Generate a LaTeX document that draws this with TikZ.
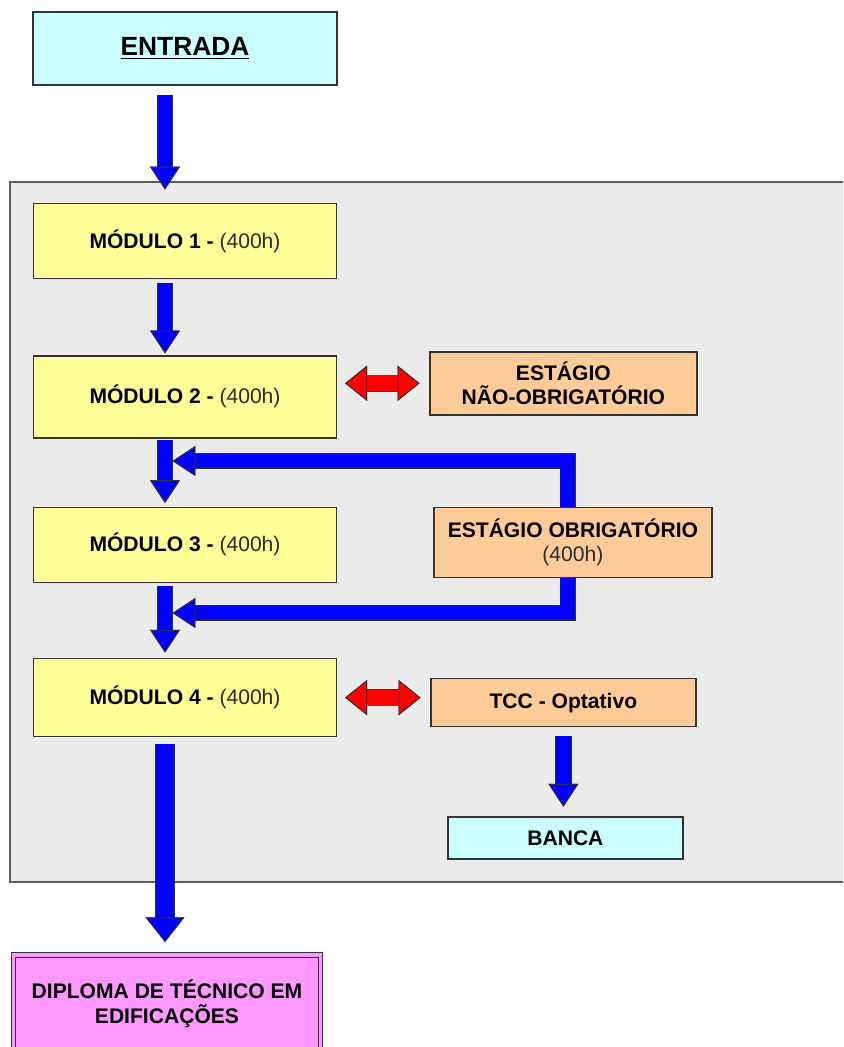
\documentclass[tikz,border=0pt]{standalone}
\usepackage{fontspec}
\setmainfont{Liberation Sans}
\usetikzlibrary{arrows.meta, positioning}

\definecolor{entradacyan}{HTML}{CCFFFF}
\definecolor{moduloyellow}{HTML}{FFFF99}
\definecolor{estagioorange}{HTML}{FFCC99}
\definecolor{diplomapink}{HTML}{FF99FF}
\definecolor{panelgray}{HTML}{EBEBEB}
\definecolor{arrowblue}{HTML}{0000FF}
\definecolor{arrowred}{HTML}{FF0000}
\definecolor{edgegray}{HTML}{333333}
\definecolor{hourgray}{HTML}{2A2A2A}

\begin{document}
\begin{tikzpicture}[
        box/.style={rectangle, draw=edgegray, line width=0.8pt, align=center, inner sep=2pt, font=\fontsize{12}{14}\selectfont\bfseries},
        entrybox/.style={box, fill=entradacyan},
        modulo/.style={box, fill=moduloyellow, minimum width=6.06cm, minimum height=1.5cm},
        estagio/.style={box, fill=estagioorange},
        diplomabox/.style={box, fill=diplomapink, draw=edgegray, double=diplomapink, double distance=1.8pt, line width=0.7pt},
        flow/.style={line width=8.5pt, draw=arrowblue,
            -{Triangle[width=17pt, length=13pt, line width=0.5pt, color=edgegray, fill=arrowblue]},
            preaction={draw=edgegray, line width=9.5pt, -{Triangle[width=17pt, length=13pt, line width=0.5pt, color=edgegray, fill=edgegray]}}},
        bigflow/.style={line width=10.5pt, draw=arrowblue,
            -{Triangle[width=22pt, length=14pt, line width=0.5pt, color=edgegray, fill=arrowblue]},
            preaction={draw=edgegray, line width=11.5pt, -{Triangle[width=22pt, length=14pt, line width=0.5pt, color=edgegray, fill=edgegray]}}},
        twoway/.style={line width=9pt, draw=arrowred,
            {Triangle[width=20pt, length=12.5pt, line width=0.5pt, color=edgegray, fill=arrowred]}-{Triangle[width=20pt, length=12.5pt, line width=0.5pt, color=edgegray, fill=arrowred]},
            preaction={draw=edgegray, line width=10pt, {Triangle[width=20pt, length=12.5pt, line width=0.5pt, color=edgegray, fill=edgegray]}-{Triangle[width=20pt, length=12.5pt, line width=0.5pt, color=edgegray, fill=edgegray]}}},
        hours/.style={font=\mdseries\color{hourgray}}
    ]
        \useasboundingbox (0,0) rectangle (16.86,-20.94);

        % Course panel
        \fill[panelgray] (0.2,-3.64) rectangle (16.86,-17.64);
        \draw[edgegray!80, line width=0.8pt] (16.86,-3.64) -| (0.2,-17.64) -- (16.86,-17.64);

        % Main column
        \node[entrybox, minimum width=6.08cm, minimum height=1.46cm, font=\fontsize{15}{18}\selectfont\bfseries] (entrada) at (3.70,-0.97) {\underline{ENTRADA}};
        \node[modulo, below=2.34cm of entrada] (m1) {MÓDULO 1 - \textmd{\color{hourgray}(400h)}};
        \node[modulo, below=1.52cm of m1, minimum height=1.64cm] (m2) {MÓDULO 2 - \textmd{\color{hourgray}(400h)}};
        \node[modulo, below=1.36cm of m2] (m3) {MÓDULO 3 - \textmd{\color{hourgray}(400h)}};
        \node[modulo, below=1.50cm of m3, minimum height=1.56cm] (m4) {MÓDULO 4 - \textmd{\color{hourgray}(400h)}};
        \node[diplomabox, below=4.34cm of m4, xshift=-0.36cm, minimum width=6.14cm, minimum height=1.96cm] (dipl) {DIPLOMA DE TÉCNICO EM\\EDIFICAÇÕES};

        % Side boxes
        \node[estagio, right=1.84cm of m2, yshift=0.27cm, minimum width=5.34cm, minimum height=1.26cm] (naoobrig) {ESTÁGIO\\NÃO-OBRIGATÓRIO};
        \node[estagio, right=1.92cm of m3, yshift=0.05cm, minimum width=5.56cm, minimum height=1.40cm] (obrig) {ESTÁGIO OBRIGATÓRIO\\\textmd{\color{hourgray}(400h)}};
        \node[estagio, right=1.86cm of m4, yshift=-0.1cm, minimum width=5.30cm, minimum height=0.96cm] (tcc) {TCC - Optativo};
        \node[entrybox, below=1.78cm of tcc, xshift=0.04cm, minimum width=4.70cm, minimum height=0.84cm] (banca) {BANCA};

        \coordinate (axis) at (3.30,0);
        \coordinate (j1) at (3.45,-9.22);
        \coordinate (j2) at (3.45,-12.26);

        % Arrows
        \draw[flow, shorten <=5.5pt, shorten >=7.5pt] (entrada.south -| axis) -- (m1.north -| axis);
        \draw[flow, shorten <=2.3pt, shorten >=1pt] (m1.south -| axis) -- (m2.north -| axis);
        \draw[flow, shorten <=1pt, shorten >=2pt] (m2.south -| axis) -- (m3.north -| axis);
        \draw[flow, shorten <=2pt, shorten >=3pt] (m3.south -| axis) -- (m4.north -| axis);
        \draw[bigflow, shorten <=4pt, shorten >=7pt] (m4.south -| axis) -- (dipl.north -| axis);
        \draw[flow] ([xshift=-0.1cm]obrig.north) |- (j1);
        \draw[flow] ([xshift=-0.1cm]obrig.south) |- (j2);
        \draw[flow, shorten <=5pt, shorten >=5.5pt] (tcc.south) -- (tcc.south |- banca.north);
        \draw[twoway, shorten <=4.5pt, shorten >=5.5pt] (naoobrig.west -| m2.east) -- (naoobrig.west);
        \draw[twoway, shorten <=4.5pt, shorten >=5.5pt] (m4.east) -- (m4.east -| tcc.west);
    \end{tikzpicture}
\end{document}
